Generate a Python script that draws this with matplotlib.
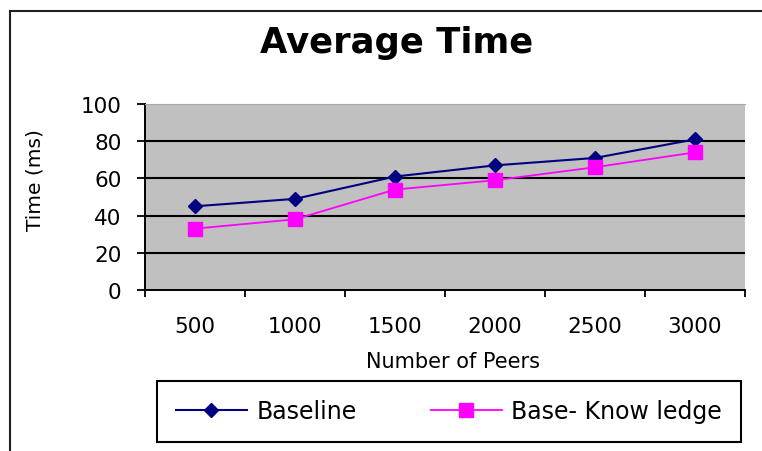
import matplotlib
matplotlib.use("Agg")
import matplotlib.pyplot as plt
from matplotlib.patches import Rectangle
from matplotlib.ticker import FixedLocator

peers = ["500", "1000", "1500", "2000", "2500", "3000"]
baseline = [45, 49, 61, 67, 71, 81]
knowledge = [33, 38, 54, 59, 66, 74]
y_ticks = [0, 20, 40, 60, 80, 100]

plt.rcParams["font.family"] = ["DejaVu Sans"]

W, H = 762, 452
fig = plt.figure(figsize=(W / 100, H / 100), dpi=100)

# outer chart frame (runs off the right and bottom edges)
fig.patches.append(Rectangle((10 / W, -0.05), 1.2, 1 - 12 / H + 0.05,
                             transform=fig.transFigure, fill=False,
                             edgecolor="#202020", linewidth=1.5))

ax = fig.add_axes([145 / W, 161 / H, 600 / W, 186 / H])
ax.set_facecolor("#C0C0C0")

x = list(range(len(peers)))
ax.plot(x, baseline, color="#000080", marker="D", markersize=7,
        linewidth=1.5, label="Baseline", zorder=3)
ax.plot(x, knowledge, color="#FF00FF", marker="s", markersize=10,
        linewidth=1.3, label="Base- Know ledge", zorder=3)

ax.set_xlim(-0.5, len(peers) - 0.5)
ax.set_ylim(0, 100)
ax.set_yticks(y_ticks)
ax.set_yticklabels([str(v) for v in y_ticks], fontsize=15.5)
ax.set_xticks(x)
ax.set_xticklabels(peers, fontsize=15.5)
ax.xaxis.set_minor_locator(FixedLocator([i - 0.5 for i in range(len(peers) + 1)]))
ax.tick_params(axis="x", which="major", length=0, pad=19)
ax.tick_params(axis="x", which="minor", length=5, width=1.3, direction="out")
ax.tick_params(axis="y", length=6, width=1.3, direction="out", pad=11)

for v in y_ticks[1:-1]:
    ax.axhline(v, color="black", linewidth=1.5, zorder=1)

ax.spines["top"].set_color("#A8A8A8")
ax.spines["right"].set_visible(False)
ax.spines["left"].set_linewidth(1.4)
ax.spines["bottom"].set_linewidth(1.4)

fig.text(453 / W, 1 - 362 / H, "Number of Peers", ha="center", va="center",
         fontsize=15)
fig.text(35 / W, 1 - 180 / H, "Time (ms)", ha="center", va="center",
         rotation=90, fontsize=14.5)

fig.text(397 / W, 1 - 53 / H, "Average Time", ha="center", va="baseline",
         fontsize=25.5, fontweight="bold")

leg = fig.legend(loc="center", bbox_to_anchor=(157 / W, 10 / H, 584 / W, 59 / H),
                 mode="expand", ncol=2, fontsize=17, fancybox=False,
                 edgecolor="black", framealpha=1, handlelength=3.0,
                 handletextpad=0.4, borderpad=0.8, borderaxespad=0)
leg.get_frame().set_linewidth(1.5)

fig.savefig("out.png", dpi=100)
